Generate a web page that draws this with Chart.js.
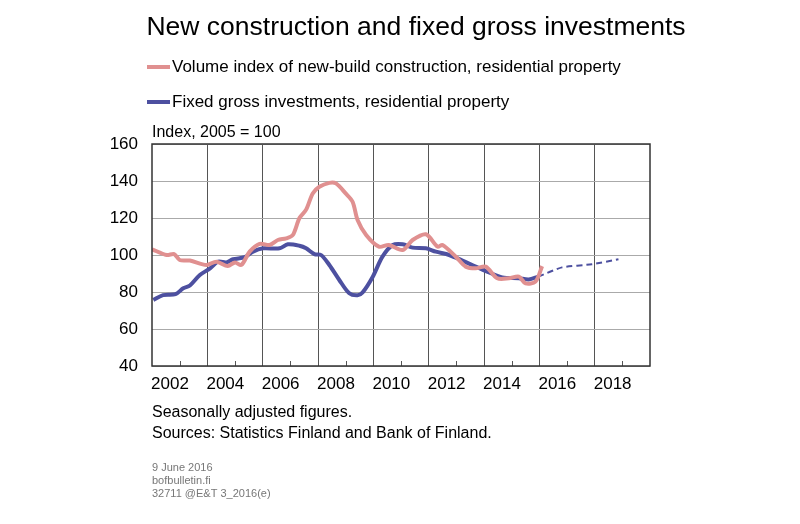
<!DOCTYPE html>
<html>
<head>
<meta charset="utf-8">
<script src="https://cdn.jsdelivr.net/npm/chart.js@4"></script>
<style>
  body { margin: 0; background: #fff; }
  #wrap { width: 800px; height: 524px; position: relative; }
</style>
</head>
<body>
<div id="wrap"><canvas id="c" width="800" height="524"></canvas></div>
<script>
// Values (x = decimal year, y = index 2005 = 100)
const yearTicks = [2002, 2004, 2006, 2008, 2010, 2012, 2014, 2016, 2018];

const newBuildX = [2002.0, 2002.53, 2002.8, 2003.0, 2003.37, 2003.97, 2004.33, 2004.74, 2005.0, 2005.23,
  2005.53, 2005.89, 2006.25, 2006.55, 2006.85, 2007.09, 2007.33, 2007.57, 2007.81, 2008.05, 2008.41,
  2008.65, 2009.0, 2009.25, 2009.43, 2009.74, 2010.2, 2010.56, 2011.06, 2011.42, 2011.9, 2012.32,
  2012.5, 2012.98, 2013.34, 2013.7, 2014.06, 2014.48, 2014.9, 2015.26, 2015.5, 2015.86, 2016.1];
const newBuildY = [103.1, 100, 100.5, 97.3, 97, 94.6, 96.4, 94, 96, 94.6,
  101.8, 106, 105.4, 108.1, 109, 110.8, 120, 124.5, 133.3, 136.9, 139,
  138.7, 133.3, 128.8, 118.9, 110.8, 104.5, 105.4, 102.7, 108.1, 111.2, 104.5,
  105.4, 99.1, 93.7, 92.8, 93.7, 87.4, 87.4, 88.3, 84.7, 85.6, 94];

const investX = [2002.05, 2002.4, 2002.85, 2003.13, 2003.37, 2003.73, 2004.1, 2004.39, 2004.69, 2004.93,
  2005.35, 2005.65, 2006.01, 2006.61, 2006.91, 2007.33, 2007.57, 2007.87, 2008.11, 2008.41, 2008.77,
  2009.13, 2009.43, 2009.61, 2009.97, 2010.33, 2010.7, 2011.06, 2011.42, 2011.9, 2012.26, 2012.74,
  2013.22, 2013.7, 2014.18, 2014.66, 2015.26, 2015.62, 2015.96];
const investY = [75.7, 78.3, 78.8, 82, 83.5, 89.2, 92.8, 96.4, 96, 97.7,
  98.8, 101.8, 103.6, 103.6, 105.8, 105, 103.6, 100.5, 100, 94.6, 86.5,
  79.3, 78.2, 79.7, 88, 99.1, 105.4, 105.8, 104, 103.6, 101.8, 100,
  97, 93.7, 90.6, 87.9, 87.4, 86.8, 88.3];

const forecastX = [2015.96, 2016.82, 2017.9, 2018.86];
const forecastY = [88.3, 93.3, 95, 97.7];

const PINK = '#e09090';
const BLUE = '#4d50a0';
const FONT = "'Liberation Sans', Arial, sans-serif";

const toPoints = (xs, ys) => xs.map((x, i) => ({ x, y: ys[i] }));

// Title, legend, notes and the minor year ticks are painted straight onto the canvas
const decorations = {
  id: 'decorations',
  afterDraw(chart) {
    const ctx = chart.ctx;
    const area = chart.chartArea;
    const xs = chart.scales.x;
    ctx.save();
    ctx.fillStyle = '#000';
    ctx.textBaseline = 'middle';
    ctx.textAlign = 'center';
    ctx.font = `26.5px ${FONT}`;
    ctx.fillText('New construction and fixed gross investments', 416, 28);

    ctx.textAlign = 'left';
    ctx.font = `17px ${FONT}`;
    ctx.lineWidth = 4;
    ctx.strokeStyle = PINK;
    ctx.beginPath(); ctx.moveTo(147, 67); ctx.lineTo(170, 67); ctx.stroke();
    ctx.fillText('Volume index of new-build construction, residential property', 172, 67);
    ctx.strokeStyle = BLUE;
    ctx.beginPath(); ctx.moveTo(147, 102); ctx.lineTo(170, 102); ctx.stroke();
    ctx.fillText('Fixed gross investments, residential property', 172, 102);

    ctx.font = `16px ${FONT}`;
    ctx.fillText('Index, 2005 = 100', 152, 133);
    ctx.fillText('Seasonally adjusted figures.', 152, 413);
    ctx.fillText('Sources: Statistics Finland and Bank of Finland.', 152, 434);

    ctx.fillStyle = '#777';
    ctx.font = `11px ${FONT}`;
    ctx.fillText('9 June 2016', 152, 468);
    ctx.fillText('bofbulletin.fi', 152, 481);
    ctx.fillText('32711 @E&T 3_2016(e)', 152, 494);

    // odd-year minor ticks pointing up from the bottom axis
    ctx.strokeStyle = '#555';
    ctx.lineWidth = 1;
    for (let yr = 2003; yr < 2020; yr += 2) {
      const px = Math.round(xs.getPixelForValue(yr)) + 0.5;
      ctx.beginPath(); ctx.moveTo(px, area.bottom); ctx.lineTo(px, area.bottom - 5); ctx.stroke();
    }
    // frame
    ctx.strokeStyle = '#333';
    ctx.lineWidth = 1.5;
    ctx.strokeRect(area.left, area.top, area.right - area.left, area.bottom - area.top);
    ctx.restore();
  },
};

new Chart(document.getElementById('c'), {
  type: 'line',
  data: {
    datasets: [
      { data: toPoints(newBuildX, newBuildY), borderColor: PINK, borderWidth: 4, pointRadius: 0, tension: 0.3 },
      { data: toPoints(investX, investY), borderColor: BLUE, borderWidth: 4, pointRadius: 0, tension: 0.3 },
      { data: toPoints(forecastX, forecastY), borderColor: BLUE, borderWidth: 2, borderDash: [6, 4], pointRadius: 0, tension: 0.2 },
    ],
  },
  plugins: [decorations],
  options: {
    responsive: false,
    animation: false,
    layout: { padding: { left: 0, top: 144, right: 150, bottom: 128 } },
    plugins: { legend: { display: false }, tooltip: { enabled: false } },
    scales: {
      x: {
        type: 'linear',
        min: 2002,
        max: 2020,
        afterBuildTicks: (axis) => { axis.ticks = yearTicks.concat([2020]).map((v) => ({ value: v })); },
        afterFit: (axis) => { axis.height = 30; },
        grid: { color: (c) => (c.tick && c.tick.value > 2002 && c.tick.value < 2020 ? '#555' : 'transparent'), drawTicks: false },
        border: { display: false },
        ticks: {
          color: '#000',
          font: { family: FONT, size: 17 },
          labelOffset: 18,
          padding: 8,
          maxRotation: 0,
          callback: (v) => (yearTicks.includes(v) ? String(v) : ''),
        },
      },
      y: {
        min: 40,
        max: 160,
        afterFit: (axis) => { axis.width = 152; },
        grid: { color: '#aaa', drawTicks: false },
        border: { display: false },
        ticks: { stepSize: 20, color: '#000', font: { family: FONT, size: 17 }, padding: 14 },
      },
    },
  },
});
</script>
</body>
</html>
